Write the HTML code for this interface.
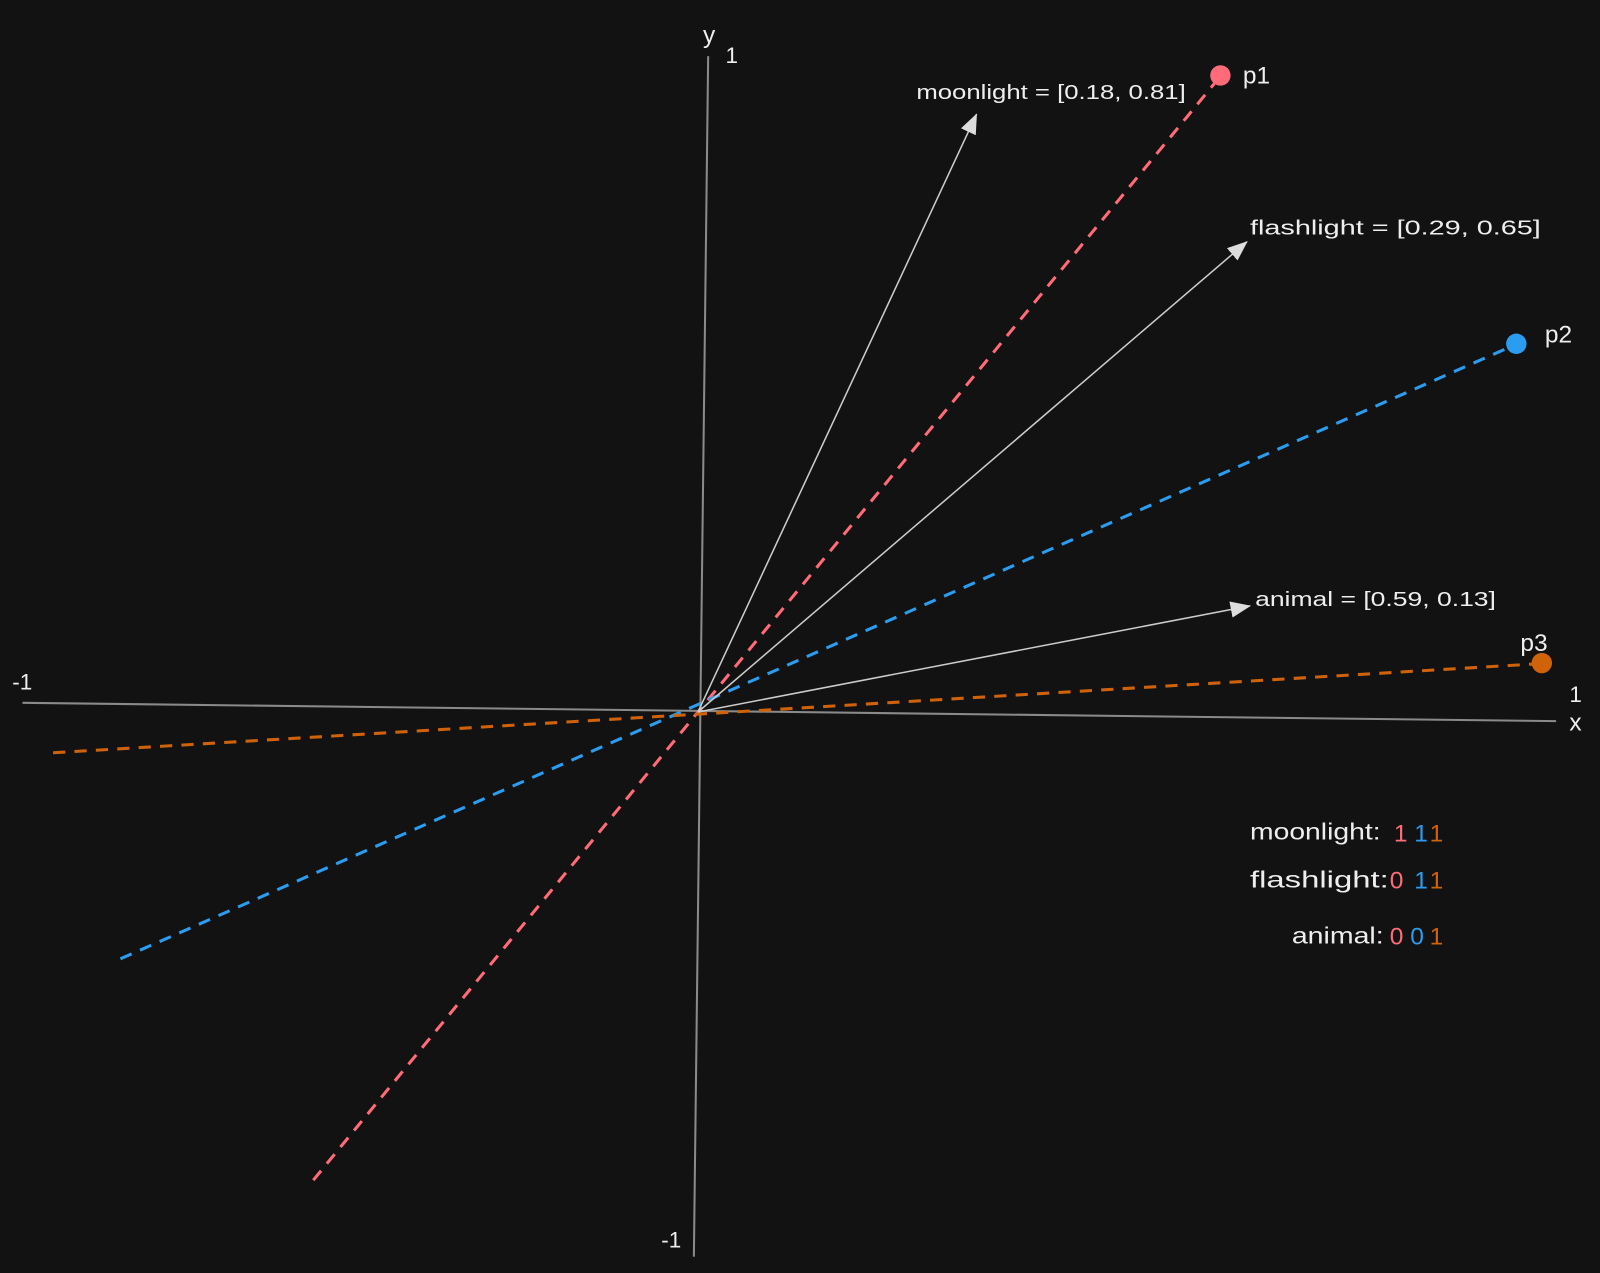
<!DOCTYPE html>
<html><head><meta charset="utf-8"><style>
html,body{margin:0;padding:0;background:#121212;}
svg{display:block}
text{font-family:"Liberation Sans",sans-serif;fill:#eeeeee;}
</style></head><body>
<svg width="1600" height="1273" viewBox="0 0 1568 1248" preserveAspectRatio="none" xmlns="http://www.w3.org/2000/svg">
<rect width="1568" height="1248" fill="#121212"/>
<defs>
<marker id="ah" markerWidth="20" markerHeight="16" refX="19" refY="8" orient="auto" markerUnits="userSpaceOnUse" viewBox="0 0 20 16">
<path d="M0,0 L20,8 L0,16 z" fill="#dddddd"/>
</marker>
</defs>
<line x1="22" y1="689" x2="1525" y2="707" stroke="#8a8a8a" stroke-width="2"/>
<line x1="694" y1="55" x2="680" y2="1232" stroke="#8a8a8a" stroke-width="2"/>
<line x1="307" y1="1157" x2="1190" y2="82" stroke="#ff6b78" stroke-width="3" stroke-dasharray="12,9"/>
<line x1="118" y1="940" x2="1478" y2="341" stroke="#2a9df0" stroke-width="3" stroke-dasharray="12,9"/>
<line x1="52" y1="738" x2="1503" y2="651" stroke="#d0620a" stroke-width="3" stroke-dasharray="12,9"/>
<line x1="684" y1="698" x2="957" y2="112" stroke="#cccccc" stroke-width="1.5" marker-end="url(#ah)"/>
<line x1="684" y1="698" x2="1222" y2="237" stroke="#cccccc" stroke-width="1.5" marker-end="url(#ah)"/>
<line x1="684" y1="698" x2="1225" y2="594" stroke="#cccccc" stroke-width="1.5" marker-end="url(#ah)"/>
<circle cx="1196" cy="74" r="10" fill="#ff6b78"/>
<circle cx="1486" cy="337" r="10" fill="#2a9df0"/>
<circle cx="1511" cy="650" r="10" fill="#d0620a"/>
<text x="1218" y="82" font-size="24">p1</text>
<text x="1514" y="336" font-size="24">p2</text>
<text x="1490" y="638" font-size="24">p3</text>
<text x="898" y="97" font-size="20" textLength="264" lengthAdjust="spacingAndGlyphs">moonlight = [0.18, 0.81]</text>
<text x="1225" y="230" font-size="20" textLength="285" lengthAdjust="spacingAndGlyphs">flashlight = [0.29, 0.65]</text>
<text x="1230" y="594" font-size="20" textLength="236" lengthAdjust="spacingAndGlyphs">animal = [0.59, 0.13]</text>
<text x="689" y="42" font-size="24">y</text>
<text x="711" y="62" font-size="22">1</text>
<text x="12" y="676" font-size="22">-1</text>
<text x="1538" y="688" font-size="22">1</text>
<text x="1538" y="716" font-size="24">x</text>
<text x="648" y="1223" font-size="22">-1</text>
<text x="1225" y="823" font-size="23" textLength="128" lengthAdjust="spacingAndGlyphs">moonlight:</text>
<text x="1366" y="825" font-size="24" fill="#ff6b78" style="fill:#ff6b78">1</text>
<text x="1386" y="825" font-size="24" style="fill:#2a9df0">1</text>
<text x="1401" y="825" font-size="24" style="fill:#d0620a">1</text>
<text x="1225" y="870" font-size="23" textLength="136" lengthAdjust="spacingAndGlyphs">flashlight:</text>
<text x="1362" y="871" font-size="24" style="fill:#ff6b78">0</text>
<text x="1386" y="871" font-size="24" style="fill:#2a9df0">1</text>
<text x="1401" y="871" font-size="24" style="fill:#d0620a">1</text>
<text x="1266" y="925" font-size="23" textLength="90" lengthAdjust="spacingAndGlyphs">animal:</text>
<text x="1362" y="926" font-size="24" style="fill:#ff6b78">0</text>
<text x="1382" y="926" font-size="24" style="fill:#2a9df0">0</text>
<text x="1401" y="926" font-size="24" style="fill:#d0620a">1</text>
</svg>
</body></html>
